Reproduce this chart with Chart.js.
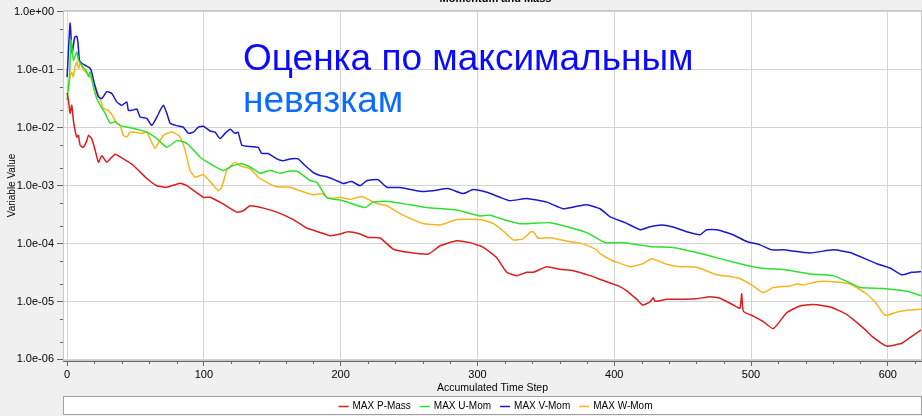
<!DOCTYPE html>
<html>
<head>
<meta charset="utf-8">
<title>Momentum and Mass</title>
<style>
  html, body { margin: 0; padding: 0; background: #f0f0f0; }
  #wrap { width: 922px; height: 416px; }
</style>
<script src="https://cdn.jsdelivr.net/npm/chart.js@4/dist/chart.umd.min.js"></script>
</head>
<body>
<div id="wrap"><canvas id="chart" width="922" height="416"></canvas></div>
<script>
    'use strict';

    // Series: [accumulated time step, max residual]
    const pMass = [[0,0.040],[1,0.030],[2.2,0.0178],[3.4,0.0245],[4.6,0.0134],[5.8,0.0090],[7.1,0.0069],[8.3,0.0074],[9.5,0.0050],[11.9,0.0046],[14.4,0.0060],[15.6,0.0074],[18,0.0065],[20.5,0.0041],[22.9,0.00255],[25.4,0.0033],[29,0.00255],[35.1,0.0035],[41.2,0.0029],[48.5,0.00223],[58.3,0.00133],[65.6,0.00100],[72.9,0.00094],[82.6,0.00110],[87.5,0.00100],[99.6,0.00063],[104.5,0.00063],[114.3,0.00048],[124,0.00035],[128.9,0.00037],[133.8,0.00045],[143.5,0.00041],[153.3,0.00035],[165.4,0.00026],[175.2,0.000186],[184.9,0.000156],[192.3,0.000137],[199.6,0.000146],[205.4,0.00016],[214.2,0.000146],[220,0.000128],[228.8,0.000125],[238.5,0.000080],[250.7,0.000070],[264.1,0.000066],[272.7,0.000092],[284.9,0.000112],[294.6,0.000104],[304.3,0.000086],[314.1,0.000057],[321.4,0.000032],[328.7,0.000028],[336,0.000032],[340.9,0.000032],[350.7,0.000040],[360.4,0.000036],[370.1,0.000034],[382.3,0.000028],[392,0.000023],[403,0.0000186],[409.1,0.0000153],[416.5,0.0000109],[420.8,0.0000087],[426.2,0.0000099],[428.6,0.0000116],[429.8,0.0000101],[438.4,0.0000109],[450.5,0.0000110],[460.3,0.0000112],[470,0.0000121],[477.3,0.0000114],[487.1,0.0000087],[491.9,0.0000076],[493.2,0.0000136],[494.4,0.0000068],[501.7,0.0000056],[509,0.0000045],[516.3,0.0000034],[526.1,0.0000064],[535.8,0.0000084],[545.5,0.0000089],[557.7,0.0000081],[569.9,0.0000060],[582,0.0000035],[589.4,0.0000024],[599.1,0.0000017],[610.2,0.0000019],[617.5,0.0000025],[625,0.0000033]];

    const uMom = [[0,0.030],[1.7,0.076],[2.9,0.327],[4.6,0.147],[7.1,0.205],[8.3,0.147],[10.7,0.121],[14.4,0.092],[15.6,0.076],[16.8,0.092],[19.2,0.051],[21.7,0.032],[24.1,0.0245],[27.8,0.0178],[31.4,0.0120],[35.1,0.0128],[38.7,0.0110],[43.6,0.0103],[51,0.0094],[58.3,0.0084],[65.6,0.0065],[72.9,0.0046],[80.2,0.0060],[87.5,0.0054],[94.8,0.0036],[97.2,0.0031],[104.5,0.0024],[114,0.00183],[121.3,0.00223],[127.7,0.0024],[133.8,0.0021],[141.1,0.00164],[148.4,0.00183],[155.7,0.00164],[163,0.0018],[168.9,0.00174],[177.6,0.00123],[182.5,0.00115],[189.8,0.00063],[201.8,0.00055],[217.8,0.00042],[223.7,0.00052],[233.7,0.00054],[245.6,0.00049],[262.9,0.00042],[284.9,0.00038],[301.9,0.00030],[309.2,0.00031],[321.4,0.00025],[331.1,0.00022],[353.1,0.00023],[367.7,0.000190],[379.9,0.000155],[393.3,0.000104],[404.2,0.000104],[411.5,0.000100],[428.4,0.000088],[443,0.000086],[460.3,0.000070],[477.3,0.000055],[491.9,0.000045],[506.6,0.000038],[526.1,0.000035],[543.1,0.000030],[560,0.000028],[572.4,0.000021],[579.7,0.0000174],[596.5,0.0000168],[613.8,0.0000150],[625,0.0000125]];

    const vMom = [[0,0.075],[2.2,0.64],[3.7,0.195],[5.6,0.37],[7.1,0.38],[8,0.29],[9,0.147],[10.7,0.13],[13.2,0.12],[16.8,0.107],[18,0.091],[20.5,0.051],[22.9,0.034],[25.4,0.032],[29,0.042],[32.7,0.039],[36.3,0.028],[40,0.0245],[43.6,0.028],[44.8,0.020],[47.3,0.020],[51,0.021],[53.4,0.0153],[58.3,0.0145],[61.9,0.011],[65.6,0.0153],[68,0.020],[70.4,0.0245],[72.9,0.0178],[75.3,0.0120],[80.2,0.0109],[85,0.0102],[88.7,0.0080],[92.3,0.0084],[96,0.0103],[99.6,0.0106],[104.5,0.0088],[108.2,0.0084],[111.8,0.0065],[115.5,0.0080],[119.2,0.0094],[122.8,0.0080],[125,0.0084],[127.7,0.0050],[131.4,0.0048],[139.6,0.0046],[142.3,0.0036],[147,0.0036],[153.3,0.0029],[157.9,0.0027],[163,0.0029],[168.9,0.0029],[172.5,0.0024],[179.8,0.0017],[184.9,0.0015],[190.8,0.0014],[199.6,0.00115],[201.8,0.00109],[208,0.00118],[214.2,0.00100],[219,0.00122],[227.3,0.00127],[233.7,0.00094],[243.4,0.00093],[258,0.00080],[267.5,0.00082],[278.5,0.00089],[289.5,0.00073],[296.8,0.00086],[306.8,0.00077],[316.5,0.00063],[323.8,0.00055],[336,0.00060],[350.7,0.00052],[362.6,0.00040],[372.6,0.00044],[379.9,0.00047],[389.6,0.00040],[397,0.00029],[408,0.00023],[419,0.000174],[426.2,0.000196],[434.7,0.00021],[443,0.000193],[453,0.000160],[462.7,0.000142],[467.6,0.000174],[474.9,0.000174],[486.8,0.000142],[496.9,0.000109],[506.6,0.000095],[515.1,0.000078],[523.4,0.000078],[543.1,0.000069],[560,0.000078],[572.4,0.000070],[591.9,0.000045],[601.6,0.000038],[610.2,0.000029],[617.5,0.000032],[625,0.000033]];

    const wMom = [[0,0.051],[1,0.045],[2.2,0.076],[3.4,0.092],[4.6,0.076],[5.8,0.113],[7.1,0.138],[8.3,0.106],[9.5,0.13],[10.7,0.114],[11.9,0.099],[14.4,0.088],[16.8,0.076],[19.2,0.062],[21.7,0.045],[24.1,0.032],[26.5,0.0216],[30.2,0.020],[33.8,0.0153],[36.3,0.0119],[38.7,0.011],[41.2,0.0074],[43.6,0.0069],[46.1,0.0084],[49.7,0.0084],[54.6,0.0080],[58.3,0.0084],[61.9,0.0056],[64.3,0.0044],[66.7,0.0054],[70.4,0.0074],[75.3,0.0084],[79,0.0080],[82.6,0.0069],[86.3,0.0041],[89.9,0.00183],[93.6,0.00140],[97.2,0.00150],[99.6,0.00156],[105.8,0.00109],[110.6,0.00082],[113.1,0.00094],[116.7,0.00183],[122.8,0.00255],[126.5,0.0022],[133.8,0.00195],[139.8,0.0014],[146,0.00114],[153.3,0.00096],[163,0.00094],[170.3,0.00082],[179.8,0.00070],[186.2,0.00073],[191,0.00060],[199.6,0.00063],[206.9,0.00058],[215.4,0.00065],[226.4,0.00049],[233.7,0.00045],[243.4,0.00033],[260.2,0.000223],[272.7,0.00021],[284.9,0.00026],[301.9,0.00026],[311.4,0.000223],[318.7,0.000166],[326,0.000116],[333.3,0.000121],[338.5,0.000156],[340.6,0.000162],[344.3,0.000125],[353.1,0.000126],[367.7,0.000108],[377.2,0.000099],[387.2,0.000078],[389.6,0.000067],[399.1,0.000050],[402.8,0.000047],[411.5,0.000040],[421,0.000045],[427.4,0.000055],[438.4,0.000044],[448.1,0.000040],[460.3,0.000039],[474.9,0.000029],[484.6,0.000027],[491.9,0.000025],[501.5,0.0000186],[508.8,0.0000142],[516.1,0.0000174],[528.5,0.0000186],[533.4,0.0000200],[538,0.0000193],[548,0.000022],[560,0.000022],[572.4,0.000020],[584.6,0.0000135],[591.9,0.0000090],[597.9,0.0000058],[608.9,0.0000068],[625,0.0000074]];

    const seriesLabels = ['MAX P-Mass', 'MAX U-Mom', 'MAX V-Mom', 'MAX W-Mom'];
    const seriesColors = ['#d81e1e', '#2ee02e', '#1a1ac8', '#f5b51e'];

    const xTicks = [0, 100, 200, 300, 400, 500, 600];
    const xMinorStep = 20;
    const yTicks = [1e-6, 1e-5, 1e-4, 1e-3, 1e-2, 1e-1, 1e0];
    const yMinorFactors = [2, 5];

    const chartTitle = 'Momentum and Mass';
    const xTitle = 'Accumulated Time Step';
    const yTitle = 'Variable Value';
    const noteLines = ['Оценка по максимальным', 'невязкам'];

    const FONT = '"Liberation Sans", Arial, sans-serif';

    /**
     * Format 1e-3 as "1.0e-03"
     */
    function sciLabel(v) {
        const e = Math.round(Math.log10(v));
        const m = v / Math.pow(10, e);
        const sign = e < 0 ? '-' : '+';
        return m.toFixed(1) + 'e' + sign + String(Math.abs(e)).padStart(2, '0');
    }

    function toPoints(series) {
        return series.map(function(p) { return {x: p[0], y: p[1]}; });
    }

    /**
     * Background, minor ticks, title, note and legend
     */
    const decorations = {
        id: 'decorations',
        beforeDraw: function(chart) {
            const ctx = chart.ctx;
            const a = chart.chartArea;
            ctx.save();
            ctx.fillStyle = '#f0f0f0';
            ctx.fillRect(0, 0, chart.width, chart.height);
            ctx.fillStyle = '#ffffff';
            ctx.fillRect(a.left, a.top, a.right - a.left, a.bottom - a.top);
            ctx.restore();
        },
        afterDraw: function(chart) {
            const ctx = chart.ctx;
            const a = chart.chartArea;
            const xs = chart.scales.x;
            const ys = chart.scales.y;
            ctx.save();

            // plot frame
            ctx.strokeStyle = '#c8c8c8';
            ctx.lineWidth = 1;
            ctx.strokeRect(a.left + 0.5, a.top + 0.5, a.right - a.left - 1, a.bottom - a.top - 1);

            // minor ticks
            ctx.strokeStyle = '#666';
            ctx.beginPath();
            for (let v = xTicks[0]; v <= xs.max; v += xMinorStep) {
                if (xTicks.indexOf(v) !== -1) continue;
                const px = Math.round(xs.getPixelForValue(v)) + 0.5;
                ctx.moveTo(px, a.bottom);
                ctx.lineTo(px, a.bottom + 3);
            }
            yTicks.forEach(function(d) {
                yMinorFactors.forEach(function(f) {
                    const v = d * f;
                    if (v > ys.max) return;
                    const py = Math.round(ys.getPixelForValue(v)) + 0.5;
                    ctx.moveTo(a.left - 3, py);
                    ctx.lineTo(a.left, py);
                });
            });
            ctx.stroke();

            // chart title, cut off at the top edge
            ctx.fillStyle = '#000';
            ctx.font = 'bold 11px ' + FONT;
            ctx.textAlign = 'center';
            ctx.textBaseline = 'middle';
            ctx.fillText(chartTitle, (a.left + a.right) / 2 + 3, -1);

            // annotation
            ctx.textAlign = 'left';
            ctx.textBaseline = 'alphabetic';
            ctx.font = '37px ' + FONT;
            ctx.fillStyle = '#0a0aff';
            ctx.fillText(noteLines[0], 243, 70);
            ctx.fillStyle = '#0a6cff';
            ctx.fillText(noteLines[1], 243, 112);

            // legend box
            const boxTop = 396;
            ctx.fillStyle = '#ffffff';
            ctx.fillRect(a.left, boxTop, chart.width - a.left, 19);
            ctx.strokeStyle = '#a0a0a0';
            ctx.strokeRect(a.left + 0.5, boxTop + 0.5, chart.width - a.left - 1, 18);

            ctx.font = '10px ' + FONT;
            ctx.textBaseline = 'middle';
            const lineLen = 10, gapIn = 4, gapOut = 9;
            const widths = seriesLabels.map(function(t) { return ctx.measureText(t).width; });
            let total = 0;
            widths.forEach(function(w, i) { total += lineLen + gapIn + w + (i < widths.length - 1 ? gapOut : 0); });
            let x = (a.left + a.right) / 2 + 3 - total / 2;
            const cy = boxTop + 10;
            chart.data.datasets.forEach(function(ds, i) {
                ctx.strokeStyle = ds.borderColor;
                ctx.lineWidth = 1.5;
                ctx.beginPath();
                ctx.moveTo(x, cy + 0.5);
                ctx.lineTo(x + lineLen, cy + 0.5);
                ctx.stroke();
                ctx.fillStyle = '#000';
                ctx.fillText(ds.label, x + lineLen + gapIn, cy);
                x += lineLen + gapIn + widths[i] + gapOut;
            });
            ctx.restore();
        }
    };

    const datasets = [pMass, uMom, vMom, wMom].map(function(series, i) {
        return {
            label: seriesLabels[i],
            data: toPoints(series),
            borderColor: seriesColors[i],
            backgroundColor: seriesColors[i],
            borderWidth: 1.5,
            pointRadius: 0,
            showLine: true,
            tension: 0.15,
            fill: false
        };
    });

    new Chart(document.getElementById('chart'), {
        type: 'scatter',
        data: {datasets: datasets},
        plugins: [decorations],
        options: {
            responsive: false,
            animation: false,
            layout: {padding: {top: 10, bottom: 22, left: 0, right: 0}},
            plugins: {
                legend: {display: false},
                tooltip: {enabled: false},
                title: {display: false}
            },
            scales: {
                x: {
                    type: 'linear',
                    min: -3,
                    max: 625,
                    afterBuildTicks: function(s) { s.ticks = xTicks.map(function(v) { return {value: v}; }); },
                    afterFit: function(s) { s.height = 33; },
                    grid: {color: '#d4d4d4', tickColor: '#666', tickLength: 5},
                    border: {color: '#666'},
                    ticks: {
                        color: '#000',
                        font: {family: FONT, size: 11},
                        padding: 2,
                        maxRotation: 0,
                        callback: function(v) { return String(v); }
                    },
                    title: {
                        display: true,
                        text: xTitle,
                        color: '#000',
                        font: {family: FONT, size: 10.5},
                        padding: {top: 0, bottom: 0}
                    }
                },
                y: {
                    type: 'logarithmic',
                    min: 0.94e-6,
                    max: 1.08,
                    afterBuildTicks: function(s) { s.ticks = yTicks.map(function(v) { return {value: v, major: true}; }); },
                    afterFit: function(s) { s.width = 63; },
                    grid: {color: '#d4d4d4', tickColor: '#666', tickLength: 6},
                    border: {color: '#666'},
                    ticks: {
                        color: '#000',
                        font: {family: FONT, size: 11},
                        padding: 3,
                        callback: function(v) { return sciLabel(v); }
                    },
                    title: {
                        display: true,
                        text: yTitle,
                        color: '#000',
                        font: {family: FONT, size: 10},
                        padding: {top: 6, bottom: 0}
                    }
                }
            }
        }
    });
</script>
</body>
</html>
